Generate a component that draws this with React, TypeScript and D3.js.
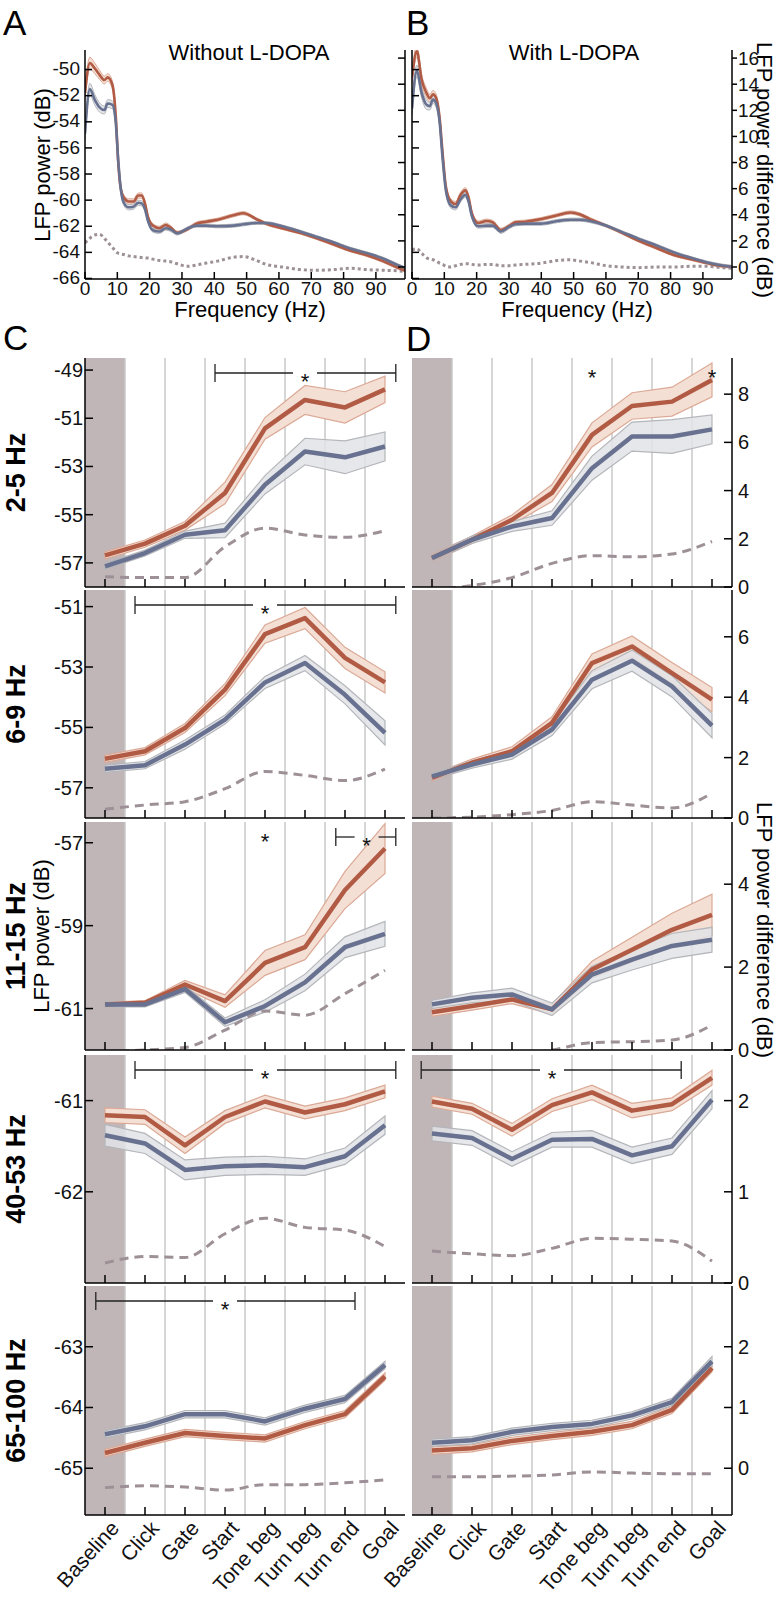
import * as d3 from "d3";

const FONT = "'Liberation Sans', Arial, Helvetica, sans-serif";

const RED = "#b15b45";
const RED_FILL = "#f4dfd5";
const RED_EDGE = "#dba995";
const BLUE = "#687290";
const BLUE_FILL = "#e2e3e6";
const BLUE_EDGE = "#b4b6ba";
const DIFF = "#9d9096";
const SHADE = "#c0b6b8";
const GRID = "#c9c9c9";

/* ---------- A / B : power spectra ---------- */
const freqA = [0, 1.5, 3, 4.5, 6, 7, 8.5, 9.5, 10.3, 11, 12, 13.5, 15, 16.5, 17.5, 18.5, 19.5, 21, 23, 25, 26.5, 28.5, 31.5, 34.5, 37.5, 41, 46, 49, 53, 56, 61, 66.5, 71.5, 77, 82, 87, 92, 97, 99];
const redA = [-51.8, -49.5, -49.9, -50.4, -50.8, -50.6, -51.2, -53.5, -57.2, -59.0, -59.8, -60.1, -60.1, -59.65, -59.65, -60.2, -61.3, -61.95, -62.15, -61.9, -62.1, -62.5, -62.25, -61.8, -61.65, -61.5, -61.15, -61.0, -61.45, -61.8, -62.15, -62.5, -62.9, -63.4, -63.85, -64.2, -64.65, -65.2, -65.4];
const blueA = [-54.9, -51.5, -52.3, -52.9, -53.1, -52.6, -52.7, -54.0, -57.0, -59.0, -60.2, -60.55, -60.5, -60.2, -60.25, -60.65, -61.6, -62.3, -62.4, -62.15, -62.25, -62.55, -62.2, -61.95, -61.95, -62.0, -61.95, -61.85, -61.75, -61.75, -62.0, -62.4, -62.8, -63.25, -63.7, -64.05, -64.45, -65.0, -65.2];
const diffA = [1.85, 2.2, 2.45, 2.5, 2.2, 1.9, 1.5, 1.2, 1.05, 1.0, 0.95, 0.85, 0.8, 0.75, 0.72, 0.7, 0.68, 0.6, 0.5, 0.45, 0.4, 0.25, 0.05, 0.15, 0.3, 0.45, 0.75, 0.8, 0.5, 0.2, 0.0, -0.2, -0.25, -0.2, -0.1, -0.2, -0.25, -0.3, -0.35];
const semA = [0.45, 0.45, 0.4, 0.35, 0.3, 0.3, 0.3, 0.3, 0.25, 0.2, 0.2, 0.2, 0.2, 0.2, 0.2, 0.18, 0.15, 0.15, 0.15, 0.15, 0.15, 0.12, 0.12, 0.12, 0.12, 0.12, 0.12, 0.12, 0.1, 0.1, 0.1, 0.1, 0.1, 0.1, 0.1, 0.1, 0.1, 0.1, 0.1];

const freqB = [0, 1.5, 3, 4.5, 5.5, 6.5, 7.5, 8.5, 9.5, 10.5, 12, 13.5, 15, 16.5, 17.5, 18.5, 20.5, 23, 25, 27.5, 30, 32, 35, 40, 45, 49, 52, 55, 60, 65, 70, 76, 81, 86, 91, 96, 99];
const redB = [-50.6, -48.6, -50.8, -51.8, -52.2, -51.9, -52.2, -53.6, -56.5, -59.0, -60.1, -60.3, -59.6, -59.25, -59.8, -61.0, -61.75, -61.6, -61.7, -62.3, -62.0, -61.7, -61.65, -61.45, -61.15, -60.95, -61.1, -61.45, -61.95, -62.5, -63.1, -63.7, -64.2, -64.5, -64.8, -65.05, -65.1];
const blueB = [-53.0, -50.1, -51.8, -52.7, -52.8, -52.3, -52.6, -53.9, -56.9, -59.3, -60.4, -60.55, -59.95, -59.6, -60.1, -61.2, -62.0, -61.95, -61.95, -62.4, -62.05, -61.85, -61.8, -61.8, -61.6, -61.5, -61.5, -61.6, -61.95, -62.45, -62.95, -63.5, -64.0, -64.4, -64.75, -65.0, -65.1];
const diffB = [1.3, 1.4, 1.05, 0.7, 0.6, 0.55, 0.45, 0.3, 0.2, 0.05, 0.0, 0.1, 0.2, 0.25, 0.25, 0.2, 0.15, 0.2, 0.2, 0.1, 0.1, 0.15, 0.2, 0.3, 0.5, 0.55, 0.45, 0.35, 0.1, 0.0, -0.05, 0.0, 0.0, 0.05, 0.05, -0.05, -0.1];
const semB = [0.45, 0.45, 0.4, 0.35, 0.3, 0.3, 0.3, 0.3, 0.25, 0.2, 0.2, 0.2, 0.2, 0.2, 0.2, 0.18, 0.15, 0.15, 0.15, 0.15, 0.15, 0.12, 0.12, 0.12, 0.12, 0.12, 0.12, 0.12, 0.1, 0.1, 0.1, 0.1, 0.1, 0.1, 0.1, 0.1, 0.1];

/* ---------- C / D : band power per task stage ---------- */
const stages = ["Baseline", "Click", "Gate", "Start", "Tone beg", "Turn beg", "Turn end", "Goal"];
const bandNames = ["2-5 Hz", "6-9 Hz", "11-15 Hz", "40-53 Hz", "65-100 Hz"];

const redC = [
  [-56.69, -56.2, -55.46, -54.1, -51.42, -50.24, -50.55, -49.8],
  [-56.04, -55.79, -55.02, -53.75, -51.91, -51.38, -52.7, -53.51],
  [-60.9, -60.86, -60.42, -60.82, -59.9, -59.52, -58.14, -57.14],
  [-61.16, -61.18, -61.49, -61.18, -61.01, -61.13, -61.04, -60.9],
  [-64.75, -64.58, -64.42, -64.47, -64.51, -64.29, -64.11, -63.49],
];
const redSemC = [
  [0.15, 0.15, 0.18, 0.45, 0.45, 0.6, 0.65, 0.55],
  [0.12, 0.12, 0.15, 0.2, 0.3, 0.35, 0.35, 0.35],
  [0.05, 0.05, 0.1, 0.15, 0.3, 0.3, 0.45, 0.6],
  [0.08, 0.08, 0.09, 0.07, 0.07, 0.07, 0.07, 0.07],
  [0.06, 0.06, 0.06, 0.06, 0.06, 0.06, 0.06, 0.06],
];
const blueC = [
  [-57.14, -56.59, -55.83, -55.65, -53.76, -52.38, -52.62, -52.17],
  [-56.37, -56.25, -55.57, -54.74, -53.51, -52.87, -53.92, -55.18],
  [-60.9, -60.9, -60.53, -61.33, -60.94, -60.37, -59.52, -59.2],
  [-61.38, -61.47, -61.76, -61.72, -61.71, -61.73, -61.61, -61.27],
  [-64.44, -64.31, -64.11, -64.11, -64.23, -64.02, -63.86, -63.3],
];
const blueSemC = [
  [0.12, 0.12, 0.15, 0.3, 0.38, 0.55, 0.68, 0.6],
  [0.12, 0.12, 0.15, 0.15, 0.2, 0.25, 0.3, 0.4],
  [0.06, 0.06, 0.08, 0.1, 0.15, 0.2, 0.25, 0.3],
  [0.12, 0.11, 0.11, 0.1, 0.1, 0.09, 0.09, 0.1],
  [0.06, 0.06, 0.06, 0.06, 0.06, 0.06, 0.06, 0.06],
];
const diffC = [
  [0.43, 0.39, 0.39, 1.67, 2.44, 2.16, 2.06, 2.34],
  [0.29, 0.43, 0.54, 0.97, 1.54, 1.41, 1.24, 1.62],
  [-0.05, 0.0, 0.06, 0.48, 0.94, 0.84, 1.36, 1.92],
  [0.22, 0.29, 0.28, 0.54, 0.71, 0.61, 0.58, 0.4],
  [-0.32, -0.29, -0.31, -0.36, -0.27, -0.27, -0.24, -0.19],
];

const redD = [
  [-56.8, -56.04, -55.21, -54.1, -51.69, -50.49, -50.31, -49.41],
  [-56.66, -56.17, -55.79, -54.85, -52.87, -52.32, -53.2, -54.08],
  [-61.09, -60.94, -60.78, -61.02, -60.06, -59.58, -59.1, -58.74],
  [-61.01, -61.09, -61.32, -61.05, -60.91, -61.11, -61.04, -60.75],
  [-64.71, -64.67, -64.55, -64.47, -64.4, -64.29, -64.04, -63.35],
];
const redSemD = [
  [0.15, 0.15, 0.2, 0.35, 0.5, 0.55, 0.6, 0.7],
  [0.1, 0.12, 0.15, 0.2, 0.3, 0.35, 0.35, 0.4],
  [0.1, 0.1, 0.1, 0.12, 0.2, 0.3, 0.4, 0.5],
  [0.06, 0.06, 0.07, 0.07, 0.08, 0.08, 0.07, 0.08],
  [0.06, 0.06, 0.06, 0.06, 0.06, 0.06, 0.06, 0.06],
];
const blueD = [
  [-56.8, -56.04, -55.49, -55.14, -53.07, -51.76, -51.76, -51.46],
  [-56.62, -56.23, -55.9, -55.07, -53.42, -52.79, -53.64, -54.94],
  [-60.9, -60.74, -60.66, -61.02, -60.18, -59.82, -59.49, -59.34],
  [-61.36, -61.41, -61.64, -61.43, -61.42, -61.6, -61.5, -60.99],
  [-64.58, -64.54, -64.4, -64.32, -64.27, -64.13, -63.91, -63.24],
];
const blueSemD = [
  [0.12, 0.15, 0.2, 0.3, 0.5, 0.6, 0.7, 0.6],
  [0.1, 0.12, 0.15, 0.2, 0.3, 0.35, 0.35, 0.4],
  [0.1, 0.12, 0.15, 0.15, 0.2, 0.25, 0.3, 0.3],
  [0.08, 0.08, 0.08, 0.08, 0.09, 0.09, 0.09, 0.1],
  [0.06, 0.06, 0.06, 0.06, 0.06, 0.06, 0.06, 0.08],
];
const diffD = [
  [-0.1, 0.06, 0.39, 0.98, 1.3, 1.25, 1.37, 1.89],
  [0.0, 0.03, 0.11, 0.25, 0.54, 0.43, 0.33, 0.82],
  [-0.19, -0.2, -0.12, 0.0, 0.18, 0.2, 0.24, 0.6],
  [0.35, 0.32, 0.3, 0.38, 0.49, 0.48, 0.46, 0.24],
  [-0.14, -0.14, -0.13, -0.11, -0.06, -0.08, -0.09, -0.09],
];

// significance: stage index range (fractional) and star position
const sigC = [
  { band: 0, from: 2.75, to: 7.27, at: 5 },
  { band: 1, from: 0.75, to: 7.27, at: 4 },
  { band: 2, from: 5.77, to: 7.27, at: 6.54 },
  { band: 3, from: 0.75, to: 7.27, at: 4 },
  { band: 4, from: -0.23, to: 6.25, at: 3 },
];
const sigD = [{ band: 3, from: -0.27, to: 6.23, at: 3 }];
const starsC = [{ band: 2, at: 4 }];
const starsD = [{ band: 0, at: 4 }, { band: 0, at: 7 }];

// per-row axis set-up
const rows = [
  { top: 358, bottom: 587, yDom: [-58, -48.5], rDom: [0, 9.5], yTicks: [-57, -55, -53, -51, -49], rTicks: [0, 2, 4, 6, 8] },
  { top: 590, bottom: 818, yDom: [-58, -50.45], rDom: [0, 7.55], yTicks: [-57, -55, -53, -51], rTicks: [0, 2, 4, 6] },
  { top: 822, bottom: 1050, yDom: [-62, -56.5], rDom: [0, 5.5], yTicks: [-61, -59, -57], rTicks: [0, 2, 4] },
  { top: 1055, bottom: 1283, yDom: [-63, -60.5], rDom: [0, 2.5], yTicks: [-62, -61], rTicks: [0, 1, 2] },
  { top: 1286, bottom: 1515, yDom: [-65.77, -62], rDom: [-0.77, 3], yTicks: [-65, -64, -63], rTicks: [0, 1, 2] },
];

function SpecPanel({ which }: { which: "A" | "B" }) {
  const isA = which === "A";
  const [x0, x1] = isA ? [85, 405] : [412, 732];
  const freq = isA ? freqA : freqB;
  const red = isA ? redA : redB;
  const blue = isA ? blueA : blueB;
  const diff = isA ? diffA : diffB;
  const sem = isA ? semA : semB;
  const top = 50, bottom = 279;
  const x = d3.scaleLinear().domain([0, 99]).range([x0, x1]);
  const y = d3.scaleLinear().domain([-66.04, -48.5]).range([bottom, top]);
  const yr = d3.scaleLinear().domain([-0.92, 16.62]).range([bottom, top]);
  const line = (vals: number[], sc: d3.ScaleLinear<number, number>) =>
    d3.line<number>().x((_, i) => x(freq[i])).y((v) => sc(v)).curve(d3.curveMonotoneX)(vals) || "";
  const area = (vals: number[]) =>
    d3.area<number>().x((_, i) => x(freq[i])).y0((v, i) => y(v - sem[i])).y1((v, i) => y(v + sem[i])).curve(d3.curveMonotoneX)(vals) || "";
  const clip = `spec-${which}`;
  const lTicks = d3.range(-66, -49, 2);
  const rTicks = d3.range(0, 17, 2);
  return (
    <g>
      <defs>
        <clipPath id={clip}><rect x={x0} y={top} width={x1 - x0} height={bottom - top} /></clipPath>
      </defs>
      <g clipPath={`url(#${clip})`}>
        <path d={area(red)} fill={RED_FILL} stroke={RED_EDGE} strokeWidth={1} />
        <path d={area(blue)} fill={BLUE_FILL} fillOpacity={0.85} stroke={BLUE_EDGE} strokeWidth={1} />
        <path d={line(diff, yr)} fill="none" stroke={DIFF} strokeWidth={3} strokeDasharray="3 3" />
        <path d={line(red, y)} fill="none" stroke={RED} strokeWidth={2.6} />
        <path d={line(blue, y)} fill="none" stroke={BLUE} strokeWidth={2.6} />
      </g>
      <g stroke="#000" strokeWidth={1.5}>
        <line x1={x0} x2={x0} y1={top} y2={bottom} />
        <line x1={x1} x2={x1} y1={top} y2={bottom} />
        <line x1={x0} x2={x1} y1={bottom} y2={bottom} />
        {d3.range(0, 100, 10).map((f) => (
          <line key={f} x1={x(f)} x2={x(f)} y1={bottom} y2={bottom - 7} />
        ))}
        {lTicks.map((t) => (
          <line key={t} x1={x0} x2={x0 + 7} y1={y(t)} y2={y(t)} />
        ))}
        {rTicks.map((t) => (
          <line key={t} x1={isA ? x1 - 7 : x1} x2={isA ? x1 : x1 + 5} y1={yr(t)} y2={yr(t)} />
        ))}
      </g>
      <g fontSize={19} fill="#111">
        {d3.range(0, 100, 10).map((f) => (
          <text key={f} x={x(f)} y={295} textAnchor="middle">{f}</text>
        ))}
        {isA &&
          lTicks.map((t) => (
            <text key={t} x={x0 - 5} y={y(t) - 1} dy="0.35em" textAnchor="end">{t}</text>
          ))}
        {!isA &&
          rTicks.map((t) => (
            <text key={t} x={x1 + 6} y={yr(t)} dy="0.35em">{t}</text>
          ))}
      </g>
      <text x={(x0 + x1) / 2 + 5} y={317} textAnchor="middle" fontSize={22}>Frequency (Hz)</text>
      <text x={isA ? 249 : 574} y={60} textAnchor="middle" fontSize={22}>{isA ? "Without L-DOPA" : "With L-DOPA"}</text>
    </g>
  );
}

function StagePanel({ r, col }: { r: number; col: "C" | "D" }) {
  const L = rows[r];
  const isC = col === "C";
  const [x0, x1] = isC ? [85, 405] : [412, 732];
  const red = isC ? redC[r] : redD[r];
  const redSem = isC ? redSemC[r] : redSemD[r];
  const blue = isC ? blueC[r] : blueD[r];
  const blueSem = isC ? blueSemC[r] : blueSemD[r];
  const diff = isC ? diffC[r] : diffD[r];
  const sig = (isC ? sigC : sigD).filter((s) => s.band === r);
  const stars = (isC ? starsC : starsD).filter((s) => s.band === r);

  const x = d3.scalePoint<string>().domain(stages).range([x0, x1]).padding(0.5);
  const step = x.step();
  const xi = d3.scaleLinear().domain([0, stages.length - 1]).range([x(stages[0])!, x(stages[stages.length - 1])!]);
  const y = d3.scaleLinear().domain(L.yDom).range([L.bottom, L.top]);
  const yr = d3.scaleLinear().domain(L.rDom).range([L.bottom, L.top]);
  const line = (vals: number[], sc: d3.ScaleLinear<number, number>, curve: d3.CurveFactory) =>
    d3.line<number>().x((_, i) => xi(i)).y((v) => sc(v)).curve(curve)(vals) || "";
  const area = (vals: number[], sems: number[]) =>
    d3.area<number>().x((_, i) => xi(i)).y0((v, i) => y(v - sems[i])).y1((v, i) => y(v + sems[i]))(vals) || "";
  const clip = `clip-${col}-${r}`;
  const yb = L.top + 15;

  return (
    <g>
      <defs>
        <clipPath id={clip}><rect x={x0} y={L.top} width={x1 - x0} height={L.bottom - L.top} /></clipPath>
      </defs>
      <rect x={x0} y={L.top} width={x(stages[0])! + step / 2 - x0} height={L.bottom - L.top} fill={SHADE} />
      {stages.slice(0, -1).map((s) => (
        <line key={s} x1={x(s)! + step / 2} x2={x(s)! + step / 2} y1={L.top} y2={L.bottom} stroke={GRID} strokeWidth={1.5} />
      ))}
      <g clipPath={`url(#${clip})`}>
        <path d={area(red, redSem)} fill={RED_FILL} stroke={RED_EDGE} strokeWidth={1.2} />
        <path d={area(blue, blueSem)} fill={BLUE_FILL} fillOpacity={0.85} stroke={BLUE_EDGE} strokeWidth={1.2} />
        <path d={line(diff, yr, d3.curveMonotoneX)} fill="none" stroke={DIFF} strokeWidth={3} strokeDasharray="9 6" />
        <path d={line(red, y, d3.curveLinear)} fill="none" stroke={RED} strokeWidth={4.5} strokeLinejoin="round" />
        <path d={line(blue, y, d3.curveLinear)} fill="none" stroke={BLUE} strokeWidth={4.5} strokeLinejoin="round" />
      </g>
      <g stroke="#000" strokeWidth={1.5}>
        <line x1={x0} x2={x1} y1={L.bottom} y2={L.bottom} />
        {stages.map((s) => (
          <line key={s} x1={x(s)} x2={x(s)} y1={L.bottom} y2={L.bottom - 8} />
        ))}
        {isC && <line x1={x0} x2={x0} y1={L.top} y2={L.bottom} />}
        {isC && L.yTicks.map((t) => <line key={t} x1={x0} x2={x0 + 8} y1={y(t)} y2={y(t)} />)}
        {!isC && <line x1={x1} x2={x1} y1={L.top} y2={L.bottom} />}
        {!isC && L.rTicks.map((t) => <line key={t} x1={x1 - 8} x2={x1} y1={yr(t)} y2={yr(t)} />)}
      </g>
      <g fontSize={20} fill="#111">
        {isC && L.yTicks.map((t) => (
          <text key={t} x={x0 - 2} y={y(t)} dy="0.35em" textAnchor="end">{t}</text>
        ))}
        {!isC && L.rTicks.map((t) => (
          <text key={t} x={x1 + 6} y={yr(t)} dy="0.35em">{t}</text>
        ))}
      </g>
      {sig.map((s, i) => {
        const xa = xi(s.from), xb = xi(s.to), xs = xi(s.at);
        return (
          <g key={i} stroke="#222" strokeWidth={1.3}>
            <line x1={xa} x2={xs - 12} y1={yb} y2={yb} />
            <line x1={xs + 12} x2={xb} y1={yb} y2={yb} />
            <line x1={xa} x2={xa} y1={yb - 9} y2={yb + 9} />
            <line x1={xb} x2={xb} y1={yb - 9} y2={yb + 9} />
            <text x={xs} y={yb + 15.5} textAnchor="middle" fontSize={22} stroke="none" fill="#111">*</text>
          </g>
        );
      })}
      {stars.map((s, i) => (
        <text key={i} x={xi(s.at)} y={L.top + 26.5} textAnchor="middle" fontSize={22} fill="#111">*</text>
      ))}
      {r === rows.length - 1 &&
        stages.map((s) => (
          <text key={s} transform={`translate(${x(s)! + 4},${L.bottom + 4}) rotate(-48)`} textAnchor="end" dy="0.72em" fontSize={21} fill="#111">
            {s}
          </text>
        ))}
    </g>
  );
}

export default function App() {
  return (
    <svg width={780} height={1599} style={{ position: "absolute", left: 0, top: 0 }} fontFamily={FONT}>
      <rect width={780} height={1599} fill="#fff" />
      <SpecPanel which="A" />
      <SpecPanel which="B" />
      <text x={3} y={35} fontSize={35}>A</text>
      <text x={406} y={35} fontSize={35}>B</text>
      <text x={3} y={350} fontSize={35}>C</text>
      <text x={406} y={351} fontSize={35}>D</text>
      <text transform="translate(50,165) rotate(-90)" textAnchor="middle" fontSize={22}>LFP power (dB)</text>
      <text transform="translate(757,170) rotate(90)" textAnchor="middle" fontSize={22}>LFP power difference (dB)</text>
      {bandNames.map((b, r) => (
        <g key={b}>
          <StagePanel r={r} col="C" />
          <StagePanel r={r} col="D" />
          <text transform={`translate(25,${(rows[r].top + rows[r].bottom) / 2}) rotate(-90)`} textAnchor="middle" fontSize={27} fontWeight="bold">
            {b}
          </text>
        </g>
      ))}
      <text transform={`translate(49,${(rows[2].top + rows[2].bottom) / 2}) rotate(-90)`} textAnchor="middle" fontSize={22}>LFP power (dB)</text>
      <text transform="translate(757,930) rotate(90)" textAnchor="middle" fontSize={22}>LFP power difference (dB)</text>
    </svg>
  );
}
